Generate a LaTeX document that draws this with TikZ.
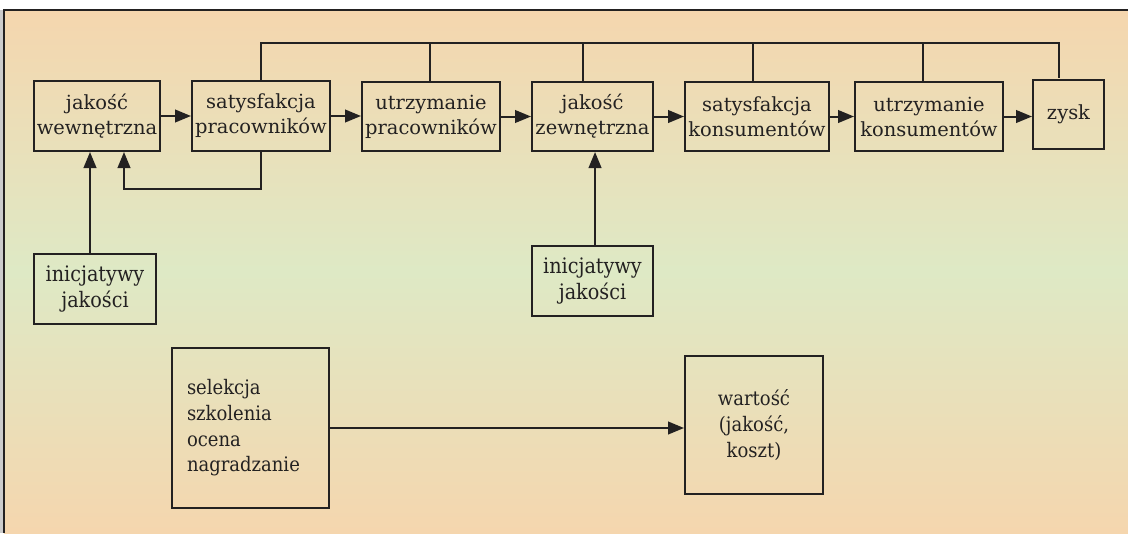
\documentclass[tikz,border=0pt]{standalone}
\usepackage{fontspec}
\setmainfont{DejaVu Serif}
\newfontfamily\condfont[FakeStretch=0.9]{DejaVu Serif}
\usetikzlibrary{arrows.meta}
\definecolor{peach}{RGB}{245,214,174}
\definecolor{pale}{RGB}{222,233,197}
\definecolor{ink}{RGB}{35,33,33}
\begin{document}
\begin{tikzpicture}[x=0.75pt,y=-0.75pt,
  box/.style={draw=ink,line width=1.5pt,inner sep=0pt,align=center,text=ink,
    font=\fontsize{14.6}{18.75}\selectfont},
  lowbox/.style={box,font=\condfont\fontsize{15}{19.2}\selectfont},
  link/.style={draw=ink,line width=1.5pt},
  arr/.style={link,-{Triangle[length=12pt,width=9.5pt]}}]
\useasboundingbox (0,0) rectangle (1128,533);
\fill[white] (0,0) rectangle (1128,533);
\fill[black!20] (0,10) rectangle (3,533);
\shade[top color=peach,bottom color=peach,middle color=pale] (4,10) rectangle (1128,533);
\draw[ink,line width=1.5pt] (4,533) -- (4,10) -- (1128,10);

\node[box,minimum width=94.5pt,minimum height=52.5pt] (A) at (97,116) {jakość\\wewnętrzna};
\node[box,minimum width=103.5pt,minimum height=52.5pt] (B) at (261,116) {satysfakcja\\pracowników};
\node[box,minimum width=103.5pt,minimum height=51.75pt] (C) at (431,116.5) {utrzymanie\\pracowników};
\node[box,minimum width=90.75pt,minimum height=51.75pt] (D) at (592.5,116.5) {jakość\\zewnętrzna};
\node[box,minimum width=108pt,minimum height=51.75pt] (E) at (757,116.5) {satysfakcja\\konsumentów};
\node[box,minimum width=111pt,minimum height=51.75pt] (F) at (929,116.5) {utrzymanie\\konsumentów};
\node[box,minimum width=53.25pt,minimum height=51.75pt] (G) at (1068.5,114.5) {zysk};

\node[lowbox,font=\condfont\fontsize{16}{19.5}\selectfont,minimum width=91.5pt,minimum height=52.5pt] (I1) at (95,289) {inicjatywy\\jakości};
\node[lowbox,font=\condfont\fontsize{16}{19.5}\selectfont,minimum width=90.75pt,minimum height=52.5pt] (I2) at (592.5,281) {inicjatywy\\jakości};
\node[lowbox,align=left,text width=95.25pt,inner xsep=11.25pt,minimum width=117.75pt,minimum height=120pt] (S) at (250.5,428) {selekcja\\szkolenia\\ocena\\nagradzanie};
\node[lowbox,minimum width=103.5pt,minimum height=103.5pt] (W) at (754,425) {wartość\\(jakość,\\koszt)};

% main chain
\draw[arr] (A.east) -- (A.east -| B.west);
\draw[arr] (B.east) -- (B.east -| C.west);
\draw[arr] (C.east) -- (C.east -| D.west);
\draw[arr] (D.east) -- (D.east -| E.west);
\draw[arr] (E.east) -- (E.east -| F.west);
\draw[arr] (F.east) -- (F.east -| G.west);

% top bus
\coordinate (bus) at (0,43);
\coordinate (gz) at (1059,78);
\draw[link] (B.north) -- (B.north |- bus) -| (gz);
\draw[link] ([xshift=-0.75pt]C.north) -- ([xshift=-0.75pt]C.north |- bus);
\draw[link] ([xshift=-7.1pt]D.north) -- ([xshift=-7.1pt]D.north |- bus);
\draw[link] ([xshift=-3pt]E.north) -- ([xshift=-3pt]E.north |- bus);
\draw[link] ([xshift=-4.5pt]F.north) -- ([xshift=-4.5pt]F.north |- bus);

% feedback
\coordinate (fb) at (0,189);
\draw[arr] (B.south) -- (B.south |- fb) -| ([xshift=20.25pt]A.south);

% initiatives
\draw[arr] ([xshift=-3.75pt]I1.north) -- ([xshift=-3.75pt]I1.north |- A.south);
\draw[arr] ([xshift=1.9pt]I2.north) -- ([xshift=1.9pt]I2.north |- D.south);

% bottom
\draw[arr] (S.east) -- (S.east -| W.west);
\end{tikzpicture}
\end{document}
